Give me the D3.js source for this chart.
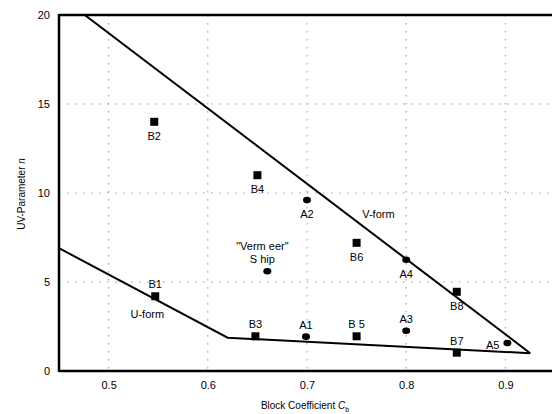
<!DOCTYPE html>
<html>
<head>
<meta charset="utf-8">
<script src="https://cdn.jsdelivr.net/npm/d3@7"></script>
<style>
body { margin: 0; background: #fff; }
svg { font-family: "Liberation Sans", Arial, sans-serif; }
</style>
</head>
<body>
<svg id="chart" width="552" height="414"></svg>
<script>
// ship data points (block coefficient vs UV-parameter)
var shipNames = ["B2", "B4", "A2", "B6", "A4", "B8", "Vermeer", "B1", "B3", "A1", "B5", "A3", "B7", "A5"];
var shipCb = [0.546, 0.65, 0.70, 0.75, 0.80, 0.851, 0.66, 0.547, 0.648, 0.699, 0.75, 0.80, 0.851, 0.902];
var shipN = [14.0, 11.0, 9.6, 7.2, 6.25, 4.45, 5.6, 4.2, 1.95, 1.93, 1.95, 2.26, 1.03, 1.57];
var shipShape = ["square", "square", "circle", "square", "circle", "square", "circle", "square", "square", "circle", "square", "circle", "square", "circle"];
var labelText = ["B2", "B4", "A2", "B6", "A4", "B8", "", "B1", "B3", "A1", "B 5", "A3", "B7", "A5"];
var labelPos = ["below", "below", "below", "below", "below", "below", "above", "above", "above", "above", "above", "above", "above", "left"];

// boundary lines
var vFormCb = [0.476, 0.925];
var vFormN = [20, 1.0];
var uFormCb = [0.45, 0.62, 0.925];
var uFormN = [6.9, 1.87, 1.0];

var xTicks = [0.5, 0.6, 0.7, 0.8, 0.9];
var yTicks = [0, 5, 10, 15, 20];

var svg = d3.select("#chart");
var margin = {left: 59, top: 15, right: -3, bottom: 43};
var width = 552 - margin.left - margin.right;
var height = 414 - margin.top - margin.bottom;

var x = d3.scaleLinear().domain([0.45, 0.95]).range([0, width]);
var y = d3.scaleLinear().domain([0, 20]).range([height, 0]);

var g = svg.append("g").attr("transform", "translate(" + margin.left + "," + margin.top + ")");

// dotted grid lines
g.selectAll(".vgrid").data(xTicks).enter().append("line")
	.attr("x1", function(d) { return x(d); }).attr("x2", function(d) { return x(d); })
	.attr("y1", 0).attr("y2", height)
	.style("stroke", "#999").style("stroke-width", 1).style("stroke-dasharray", "1.5,6.5");
g.selectAll(".hgrid").data(yTicks.slice(1, 4)).enter().append("line")
	.attr("x1", 0).attr("x2", width)
	.attr("y1", function(d) { return y(d); }).attr("y2", function(d) { return y(d); })
	.style("stroke", "#999").style("stroke-width", 1).style("stroke-dasharray", "1.5,6.5");

// axes
var xAxis = g.append("g").attr("transform", "translate(0," + height + ")")
	.call(d3.axisBottom(x).tickValues(xTicks).tickSize(0).tickPadding(10).tickFormat(d3.format(".1f")));
var yAxis = g.append("g")
	.call(d3.axisLeft(y).tickValues(yTicks).tickSize(0).tickPadding(9));
[xAxis, yAxis].forEach(function(a) {
	a.select(".domain").remove();
	a.selectAll("text").style("font-size", "11px").style("fill", "#000").style("font-family", "Liberation Sans, Arial, sans-serif");
});

// frame
g.append("line").attr("x1", 0).attr("x2", width).attr("y1", 0).attr("y2", 0)
	.style("stroke", "#000").style("stroke-width", 2.5);
g.append("line").attr("x1", 0).attr("x2", width).attr("y1", height).attr("y2", height)
	.style("stroke", "#000").style("stroke-width", 2.5);
g.append("line").attr("x1", 0).attr("x2", 0).attr("y1", -1).attr("y2", height + 1)
	.style("stroke", "#000").style("stroke-width", 2.5);

// boundary lines
var line = d3.line().x(function(d) { return x(d[0]); }).y(function(d) { return y(d[1]); });
g.append("path").datum(d3.zip(vFormCb, vFormN)).attr("d", line)
	.style("fill", "none").style("stroke", "#000").style("stroke-width", 2);
g.append("path").datum(d3.zip(uFormCb, uFormN)).attr("d", line)
	.style("fill", "none").style("stroke", "#000").style("stroke-width", 2);

// points
var pts = shipNames.map(function(n, i) {
	return {name: n, cb: shipCb[i], n: shipN[i], shape: shipShape[i], label: labelText[i], pos: labelPos[i]};
});
g.selectAll(".sq").data(pts.filter(function(d) { return d.shape === "square"; })).enter().append("rect")
	.attr("x", function(d) { return x(d.cb) - 4; }).attr("y", function(d) { return y(d.n) - 4; })
	.attr("width", 8).attr("height", 8).style("fill", "#000");
g.selectAll(".ci").data(pts.filter(function(d) { return d.shape === "circle"; })).enter().append("ellipse")
	.attr("cx", function(d) { return x(d.cb); }).attr("cy", function(d) { return y(d.n); })
	.attr("rx", 4).attr("ry", 3.3).style("fill", "#000");

// point labels
g.selectAll(".lbl").data(pts.filter(function(d) { return d.label; })).enter().append("text")
	.attr("x", function(d) { return d.pos === "left" ? x(d.cb) - 8 : x(d.cb); })
	.attr("y", function(d) {
		if (d.pos === "below") return y(d.n) + 18;
		if (d.pos === "above") return y(d.n) - 8;
		return y(d.n) + 6;
	})
	.attr("text-anchor", function(d) { return d.pos === "left" ? "end" : "middle"; })
	.style("font-size", "11px")
	.text(function(d) { return d.label; });

// Vermeer label
g.append("text").attr("x", x(0.655)).attr("y", y(5.6) - 21).attr("text-anchor", "middle")
	.style("font-size", "11px").text("\"Verm eer\"");
g.append("text").attr("x", x(0.655)).attr("y", y(5.6) - 8).attr("text-anchor", "middle")
	.style("font-size", "11px").text("S hip");

// region labels
g.append("text").attr("x", x(0.772)).attr("y", y(8.6)).attr("text-anchor", "middle")
	.style("font-size", "11px").text("V-form");
g.append("text").attr("x", x(0.539)).attr("y", y(2.95)).attr("text-anchor", "middle")
	.style("font-size", "11px").text("U-form");

// axis titles
var xt = svg.append("text").attr("x", 305).attr("y", 409).attr("text-anchor", "middle").style("font-size", "10px");
xt.append("tspan").text("Block Coefficient ");
xt.append("tspan").style("font-style", "italic").text("C");
xt.append("tspan").attr("dy", 3).style("font-size", "7px").text("b");

var yt = svg.append("text").attr("transform", "translate(25,194) rotate(-90)").attr("text-anchor", "middle").style("font-size", "10px");
yt.append("tspan").text("UV-Parameter  ");
yt.append("tspan").style("font-style", "italic").text("n");
</script>
</body>
</html>
